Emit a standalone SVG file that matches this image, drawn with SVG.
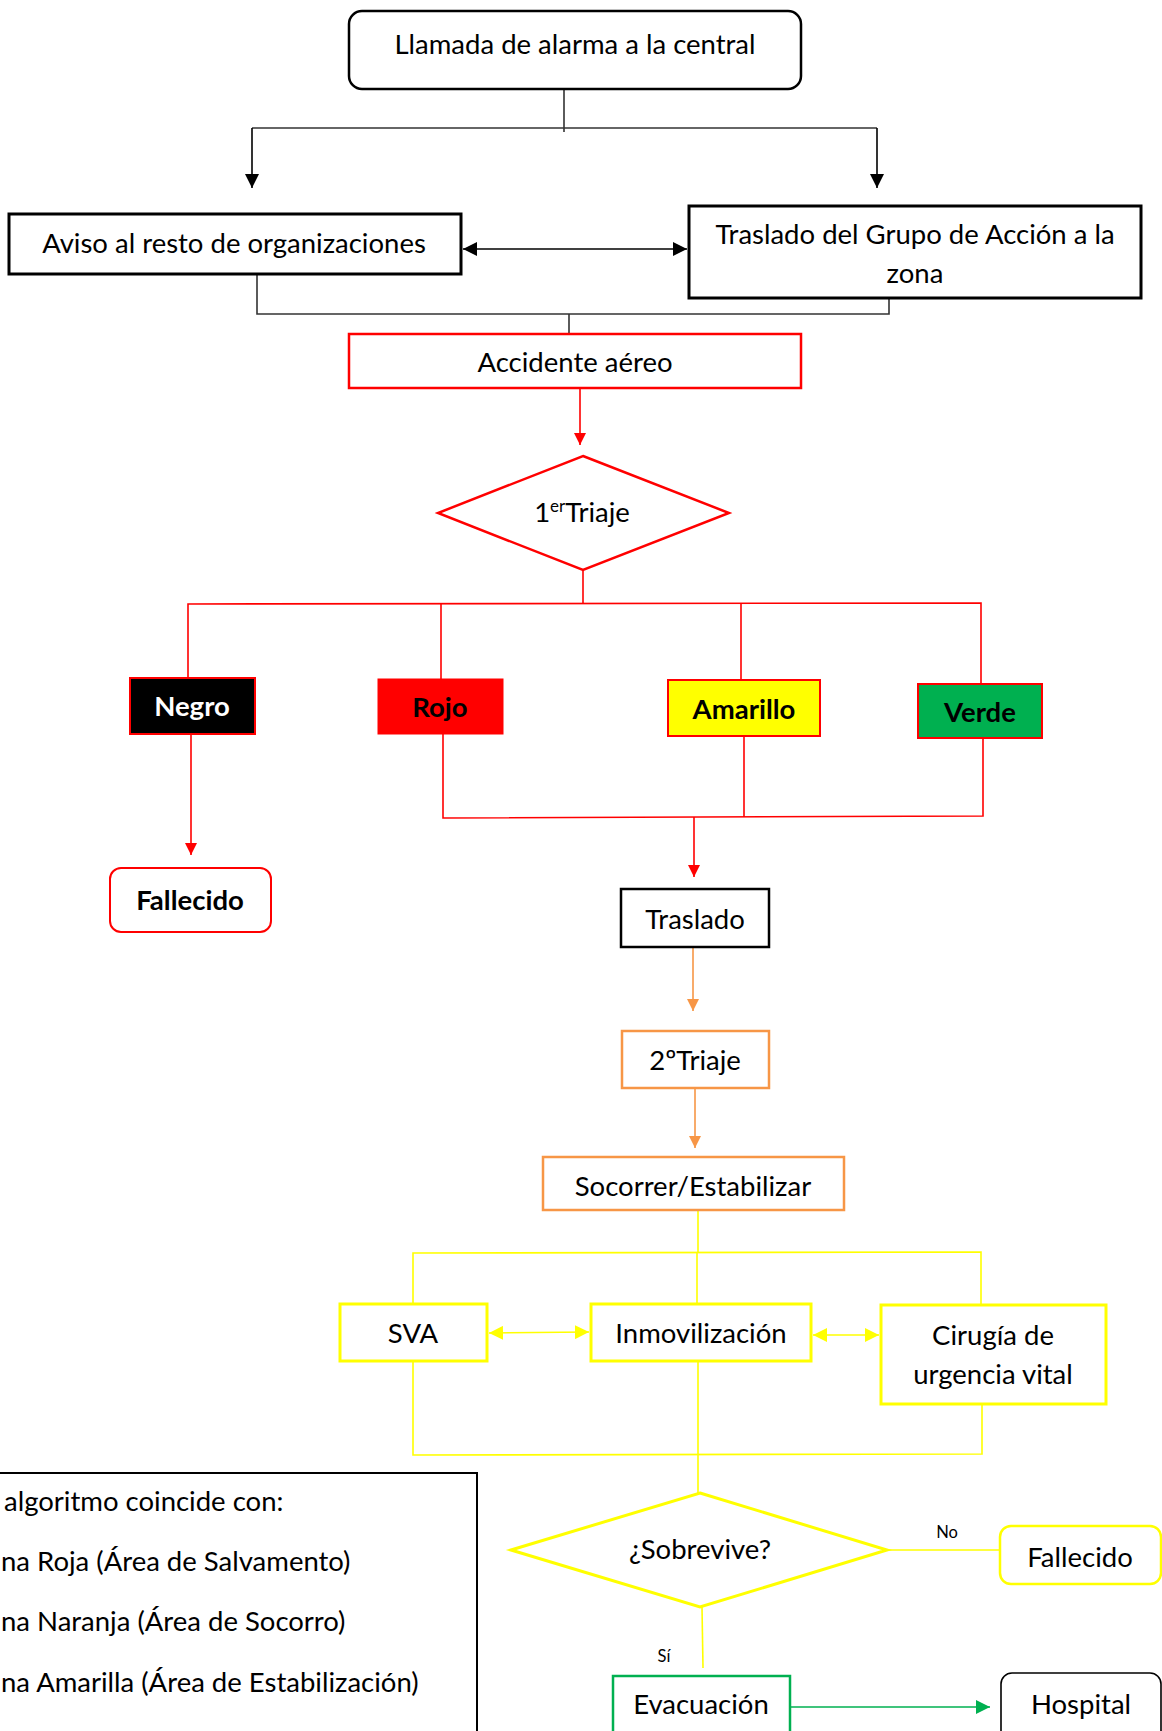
<svg xmlns="http://www.w3.org/2000/svg" width="1162" height="1731" viewBox="0 0 1162 1731">
<style>
text{font-family:Lato,"Liberation Sans",sans-serif;font-size:27.5px;fill:#000;text-anchor:middle}
.b{font-weight:bold}
.sm{font-size:16.5px}
.lg{text-anchor:start}
.c{fill:none;stroke-width:1.6}
.k{stroke:#333}
.r{stroke:#FF0000}
.o{stroke:#F79646}
.y{stroke:#FFFF00}
.g{stroke:#00B050}
.box{fill:#fff}
</style>
<defs>
<marker id="ak" viewBox="0 0 10 10" refX="10" refY="5" markerWidth="15" markerHeight="14" markerUnits="userSpaceOnUse" orient="auto-start-reverse"><path d="M0,0L10,5L0,10z" fill="#000"/></marker>
<marker id="ar" viewBox="0 0 10 10" refX="10" refY="5" markerWidth="15" markerHeight="12" markerUnits="userSpaceOnUse" orient="auto-start-reverse"><path d="M0,0L10,5L0,10z" fill="#FF0000"/></marker>
<marker id="ao" viewBox="0 0 10 10" refX="10" refY="5" markerWidth="15" markerHeight="12" markerUnits="userSpaceOnUse" orient="auto-start-reverse"><path d="M0,0L10,5L0,10z" fill="#F79646"/></marker>
<marker id="ay" viewBox="0 0 10 10" refX="10" refY="5" markerWidth="14" markerHeight="14" markerUnits="userSpaceOnUse" orient="auto-start-reverse"><path d="M0,0L10,5L0,10z" fill="#FFFF00"/></marker>
<marker id="ag" viewBox="0 0 10 10" refX="10" refY="5" markerWidth="16" markerHeight="14" markerUnits="userSpaceOnUse" orient="auto-start-reverse"><path d="M0,0L10,5L0,10z" fill="#00B050"/></marker>
</defs>

<g id="connectors">
  <polyline class="c k" points="564,89 564,132"/>
  <polyline class="c k" points="252,128 877,128"/>
  <line class="c" stroke="#000" stroke-width="2" x1="252" y1="128" x2="252" y2="188" marker-end="url(#ak)"/>
  <line class="c" stroke="#000" stroke-width="2" x1="877" y1="128" x2="877" y2="188" marker-end="url(#ak)"/>
  <line class="c" stroke="#000" stroke-width="3.5" x1="463" y1="249" x2="687" y2="249" marker-start="url(#ak)" marker-end="url(#ak)"/>
  <polyline class="c k" points="257,275 257,314 889,314 889,299"/>
  <polyline class="c k" points="569,314 569,333"/>
  <line class="c" stroke="#FF0000" stroke-width="2" x1="580" y1="389" x2="580" y2="445" marker-end="url(#ar)"/>
  <polyline class="c r" points="583,570 583,603"/>
  <polyline class="c r" points="188,678 188,604 981,603 981,684"/>
  <polyline class="c r" points="441,603 441,679"/>
  <polyline class="c r" points="741,603 741,680"/>
  <line class="c" stroke="#FF0000" stroke-width="2" x1="191" y1="734" x2="191" y2="855" marker-end="url(#ar)"/>
  <polyline class="c r" points="443,734 443,818 983,816 983,738"/>
  <polyline class="c r" points="744,736 744,817"/>
  <line class="c" stroke="#FF0000" stroke-width="2.2" x1="694" y1="817" x2="694" y2="877" marker-end="url(#ar)"/>
  <line class="c" stroke="#F79646" stroke-width="2.2" x1="693" y1="948" x2="693" y2="1011" marker-end="url(#ao)"/>
  <line class="c" stroke="#F79646" stroke-width="2.2" x1="695" y1="1089" x2="695" y2="1148" marker-end="url(#ao)"/>
  <polyline class="c y" points="698,1210 698,1252"/>
  <polyline class="c y" points="413,1304 413,1253 981,1252 981,1305"/>
  <polyline class="c y" points="697,1252 697,1304"/>
  <polyline class="c y" points="413,1362 413,1455 982,1454 982,1405"/>
  <polyline class="c y" points="698,1362 698,1493"/>
  <line class="c" stroke="#FFFF00" stroke-width="3.5" x1="489" y1="1333" x2="589" y2="1332" marker-start="url(#ay)" marker-end="url(#ay)"/>
  <line class="c" stroke="#FFFF00" stroke-width="3.5" x1="813" y1="1335" x2="879" y2="1335" marker-start="url(#ay)" marker-end="url(#ay)"/>
  <polyline class="c y" stroke-width="2" points="888,1550 1000,1550"/>
  <polyline class="c y" stroke-width="2" points="702,1607 703,1668"/>
  <line class="c" stroke="#00B050" stroke-width="3.5" x1="791" y1="1707" x2="990" y2="1707" marker-end="url(#ag)"/>
  <text class="sm" x="947" y="1538">No</text>
  <text class="sm" x="664" y="1662">Sí</text>
</g>

<g id="n-llamada">
  <rect class="box" x="349" y="11" width="452" height="78" rx="13" stroke="#000" stroke-width="2.5"/>
  <text x="575" y="54">Llamada de alarma a la central</text>
</g>
<g id="n-aviso">
  <rect class="box" x="9" y="214" width="452" height="60" stroke="#000" stroke-width="3"/>
  <text x="234" y="253">Aviso al resto de organizaciones</text>
</g>
<g id="n-traslado-grupo">
  <rect class="box" x="689" y="206" width="452" height="92" stroke="#000" stroke-width="3"/>
  <text x="915" y="244">Traslado del Grupo de Acción a la</text>
  <text x="915" y="283">zona</text>
</g>
<g id="n-accidente">
  <rect class="box" x="349" y="334" width="452" height="54" stroke="#FF0000" stroke-width="2.5"/>
  <text x="575" y="372">Accidente aéreo</text>
</g>
<g id="n-triaje1">
  <polygon class="box" points="583,456 729,513 583,570 438,513" stroke="#FF0000" stroke-width="2.5"/>
  <text x="582" y="522">1<tspan font-size="17" dy="-10">er</tspan><tspan dy="10">Triaje</tspan></text>
</g>
<g id="n-negro">
  <rect x="130" y="678" width="125" height="56" fill="#000" stroke="#FF0000" stroke-width="2"/>
  <text class="b" x="192" y="716" style="fill:#fff">Negro</text>
</g>
<g id="n-rojo">
  <rect x="378" y="679" width="125" height="55" fill="#FF0000" stroke="#FF0000" stroke-width="1"/>
  <text class="b" x="440" y="717">Rojo</text>
</g>
<g id="n-amarillo">
  <rect x="668" y="680" width="152" height="56" fill="#FFFF00" stroke="#FF0000" stroke-width="2"/>
  <text class="b" x="744" y="719">Amarillo</text>
</g>
<g id="n-verde">
  <rect x="918" y="684" width="124" height="54" fill="#00B050" stroke="#FF0000" stroke-width="2"/>
  <text class="b" x="980" y="722">Verde</text>
</g>
<g id="n-fallecido1">
  <rect class="box" x="110" y="868" width="161" height="64" rx="11" stroke="#FF0000" stroke-width="2"/>
  <text class="b" x="190" y="910">Fallecido</text>
</g>
<g id="n-traslado">
  <rect class="box" x="621" y="889" width="148" height="58" stroke="#000" stroke-width="2.5"/>
  <text x="695" y="929">Traslado</text>
</g>
<g id="n-triaje2">
  <rect class="box" x="622" y="1031" width="147" height="57" stroke="#F79646" stroke-width="2.5"/>
  <text x="695" y="1070">2ºTriaje</text>
</g>
<g id="n-socorrer">
  <rect class="box" x="543" y="1157" width="301" height="53" stroke="#F79646" stroke-width="2.5"/>
  <text x="693" y="1196">Socorrer/Estabilizar</text>
</g>
<g id="n-sva">
  <rect class="box" x="340" y="1304" width="147" height="57" stroke="#FFFF00" stroke-width="3"/>
  <text x="413" y="1343">SVA</text>
</g>
<g id="n-inmov">
  <rect class="box" x="591" y="1304" width="220" height="57" stroke="#FFFF00" stroke-width="3"/>
  <text x="701" y="1343">Inmovilización</text>
</g>
<g id="n-cirugia">
  <rect class="box" x="881" y="1305" width="225" height="99" stroke="#FFFF00" stroke-width="3"/>
  <text x="993" y="1345">Cirugía de</text>
  <text x="993" y="1384">urgencia vital</text>
</g>
<g id="n-sobrevive">
  <polygon class="box" points="700,1493 887,1550 700,1607 511,1550" stroke="#FFFF00" stroke-width="3"/>
  <text x="700" y="1559">¿Sobrevive?</text>
</g>
<g id="n-fallecido2">
  <rect class="box" x="1000" y="1526" width="161" height="58" rx="11" stroke="#FFFF00" stroke-width="2.5"/>
  <text x="1080" y="1567">Fallecido</text>
</g>
<g id="n-evacuacion">
  <rect class="box" x="613" y="1676" width="177" height="80" stroke="#00B050" stroke-width="2.5"/>
  <text x="701" y="1714">Evacuación</text>
</g>
<g id="n-hospital">
  <rect class="box" x="1001" y="1673" width="160" height="80" rx="11" stroke="#000" stroke-width="1.6"/>
  <text x="1081" y="1714">Hospital</text>
</g>
<g id="n-legend">
  <rect class="box" x="-10" y="1473" width="487" height="300" stroke="#000" stroke-width="2"/>
  <text class="lg" x="4" y="1511">algoritmo coincide con:</text>
  <text class="lg" x="1" y="1571">na Roja (Área de Salvamento)</text>
  <text class="lg" x="1" y="1631">na Naranja (Área de Socorro)</text>
  <text class="lg" x="1" y="1692">na Amarilla (Área de Estabilización)</text>
</g>
</svg>
